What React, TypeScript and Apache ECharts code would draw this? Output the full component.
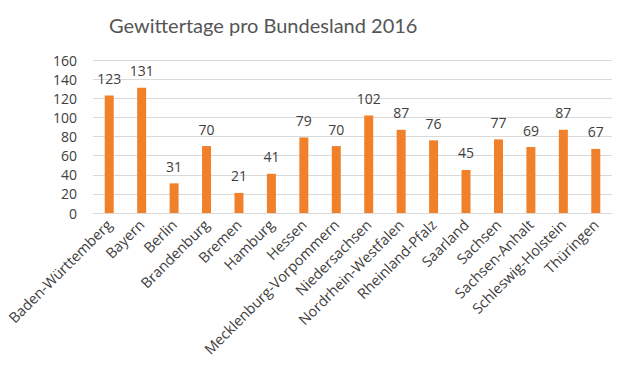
import React, { useEffect, useRef } from "react";
import * as echarts from "echarts";

const categories = [
  "Baden-Württemberg", "Bayern", "Berlin", "Brandenburg", "Bremen", "Hamburg", "Hessen",
  "Mecklenburg-Vorpommern", "Niedersachsen", "Nordrhein-Westfalen", "Rheinland-Pfalz",
  "Saarland", "Sachsen", "Sachsen-Anhalt", "Schleswig-Holstein", "Thüringen",
];
const values = [123, 131, 31, 70, 21, 41, 79, 70, 102, 87, 76, 45, 77, 69, 87, 67];
const titleText = "Gewittertage pro Bundesland 2016";

export default function App() {
  const ref = useRef<HTMLDivElement>(null);
  useEffect(() => {
    const chart = echarts.init(ref.current!, null, { renderer: "svg" });
    const font = "'Open Sans', 'Noto Sans', sans-serif";
    chart.setOption({
      animation: false,
      backgroundColor: "#ffffff",
      title: {
        text: titleText,
        left: 104,
        top: 10,
        textStyle: { fontFamily: "Lato, 'Open Sans', sans-serif", fontSize: 20, fontWeight: "normal", color: "#555555" },
      },
      grid: { left: 93, right: 12, top: 60, bottom: 156, containLabel: false },
      xAxis: {
        type: "category",
        data: categories,
        axisTick: { show: false },
        axisLine: { lineStyle: { color: "#d9d9d9", width: 1 } },
        axisLabel: {
          rotate: 45,
          interval: 0,
          margin: 9,
          fontFamily: font,
          fontSize: 14.5,
          color: "#404040",
        },
      },
      yAxis: {
        type: "value",
        min: 0,
        max: 160,
        interval: 20,
        axisLine: { show: false },
        axisTick: { show: false },
        splitLine: { lineStyle: { color: "#d9d9d9", width: 1 } },
        axisLabel: { margin: 16, fontFamily: font, fontSize: 14, lineHeight: 16, color: "#404040" },
      },
      series: [
        {
          type: "bar",
          data: values,
          barWidth: 9,
          itemStyle: { color: "#f0812a" },
          label: {
            show: true,
            position: "top",
            distance: 10,
            fontFamily: font,
            fontSize: 14,
            color: "#404040",
          },
        },
      ],
    });
    return () => chart.dispose();
  }, []);
  return <div ref={ref} style={{ position: "absolute", left: 0, top: 0, width: 624, height: 369 }} />;
}
